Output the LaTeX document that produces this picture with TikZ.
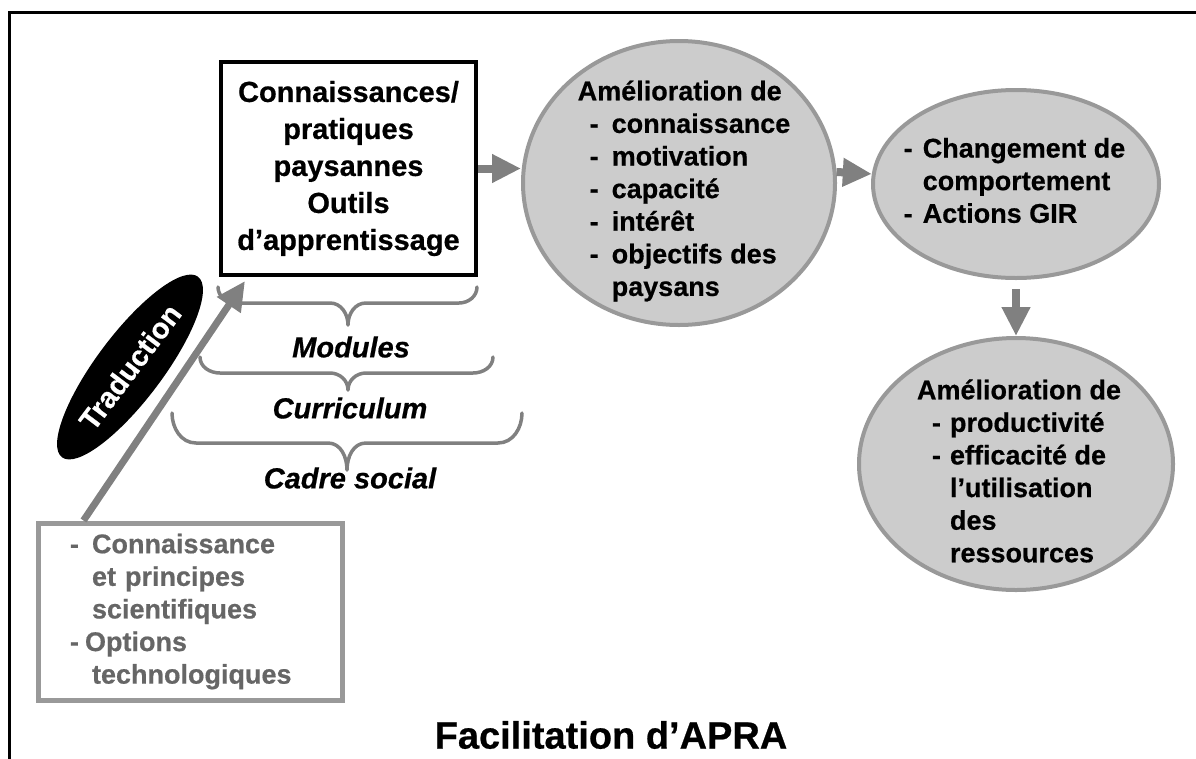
\documentclass[tikz,border=0pt]{standalone}
\usepackage{fontspec}
\setmainfont{Liberation Sans}[BoldFont={Liberation Sans Bold}, BoldItalicFont={Liberation Sans Bold Italic},
  BoldFeatures={FakeBold=0.6}, BoldItalicFeatures={FakeBold=0.6}]
\usetikzlibrary{arrows.meta,shapes.geometric}
\definecolor{arrgray}{HTML}{808080}
\definecolor{bubfill}{HTML}{CCCCCC}
\definecolor{bubline}{HTML}{999999}
\definecolor{gtext}{HTML}{666666}
\newcommand{\fsB}{\fontsize{27}{32.6}\selectfont\bfseries}
\newcommand{\fsM}{\fontsize{29}{37}\selectfont\bfseries}
\newcommand{\dsh}[1]{\makebox[#1][l]{-}}
\begin{document}
\begin{tikzpicture}[x=1pt,y=-1pt,
  bubble/.style={ellipse, draw=bubline, line width=4pt, fill=bubfill, inner sep=0pt},
  txt/.style={align=left, inner sep=0pt, font=\fsB},
  arr/.style={draw=arrgray, line width=8pt, -{Triangle[length=29pt,width=27pt]}},
  brace/.style={draw=arrgray, line width=3.5pt, line cap=round, line join=round},
  blabel/.style={font=\fsM\itshape, inner sep=0pt}]
\useasboundingbox (0,0) rectangle (1196,758);
% frame
\draw[line width=3pt] (9,762) -- (9,12) -- (1200,12);
% main box
\node[draw, line width=4pt, minimum width=255pt, minimum height=213pt, align=center,
      font=\fsM, inner sep=0pt] (box) at (348.5,168.5)
  {Connaissances/\\pratiques\\paysannes\\Outils\\d’apprentissage};
% bubbles
\node[bubble, minimum width=312pt, minimum height=284pt] (c1) at (679,183) {};
\node[txt] (c1t) at (684,191) {Amélioration de\\
  \hspace*{12pt}\dsh{22pt}connaissance\\
  \hspace*{12pt}\dsh{22pt}motivation\\
  \hspace*{12pt}\dsh{22pt}capacité\\
  \hspace*{12pt}\dsh{22pt}intérêt\\
  \hspace*{12pt}\dsh{22pt}objectifs des\\
  \hspace*{34pt}paysans};
\node[bubble, minimum width=286pt, minimum height=188pt] (c2) at (1016,184) {};
\node[txt] (c2t) at (1014.5,180.5) {\dsh{19pt}Changement de\\
  \hspace*{19pt}comportement\\
  \dsh{19pt}Actions GIR};
\node[bubble, minimum width=314pt, minimum height=252pt] (c3) at (1016,464) {};
\node[txt] (c3t) at (1019,471) {Amélioration de\\
  \hspace*{15pt}\dsh{18pt}productivité\\
  \hspace*{15pt}\dsh{18pt}efficacité de\\
  \hspace*{33pt}l’utilisation\\
  \hspace*{33pt}des\\
  \hspace*{33pt}ressources};
% grey source box
\node[draw=bubline, line width=5pt, minimum width=304pt, minimum height=177pt,
      text width=240pt, inner xsep=32pt, align=left, text=gtext, font=\fsB] (gbox) at (190,611.5)
  {\dsh{22pt}Connaissance\\
   \hspace*{22pt}et principes\\
   \hspace*{22pt}scientifiques\\
   \dsh{15pt}Options\\
   \hspace*{22pt}technologiques};
% traduction
\node[ellipse, fill=black, minimum width=226pt, minimum height=66pt, rotate=53,
      text=white, font=\fsM, inner sep=0pt] (trad) at (130,367) {Traduction};
% arrows
\draw[arr] (box.east) -- (box.east -| c1.west);
\draw[arr] (c1.4) -- (c2.176);
\draw[arr, shorten <=9pt] (c2.south) -- (c3.north);
\coordinate (dstart) at ([xshift=48pt]gbox.north west);
\coordinate (dend) at ([xshift=26pt,yshift=-4pt]box.south west);
\draw[arr, line width=7pt] (dstart) -- (dend);
% braces
\draw[brace] (218,287) to[out=-90,in=180] (236,303) -- (330,303) to[out=0,in=90] (348,325)
  to[out=90,in=180] (366,303) -- (459,303) to[out=0,in=-90] (477,287);
\draw[brace] (200,357) to[out=-90,in=180] (220,373) -- (330,373) to[out=0,in=90] (348,390)
  to[out=90,in=180] (366,373) -- (473,373) to[out=0,in=-90] (493,357);
\draw[brace] (172,413) to[out=-90,in=180] (196,443) -- (328,443) to[out=0,in=90] (347,470)
  to[out=90,in=180] (366,443) -- (498,443) to[out=0,in=-90] (522,413);
\node[blabel] (mod) at (351,347) {Modules};
\node[blabel] (cur) at (350,408) {Curriculum};
\node[blabel] (cad) at (350,478) {Cadre social};
% title
\node[font=\fontsize{38}{44}\selectfont\bfseries, inner sep=0pt] (title) at (611,735) {Facilitation d’APRA};
\end{tikzpicture}
\end{document}
